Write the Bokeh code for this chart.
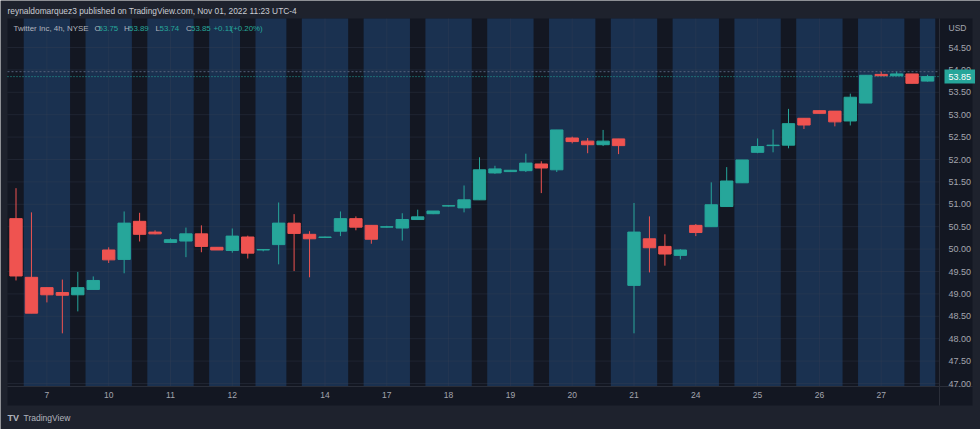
from bokeh.plotting import figure
from bokeh.models import Range1d, FixedTicker, NumeralTickFormatter, Label, ColumnDataSource
from bokeh.embed import file_html
from bokeh.resources import INLINE

# ---------------- data (Twitter Inc, 4h bars, NYSE) ----------------
bar_no = list(range(1, 61))
opens = [50.68, 49.37, 49.14, 49.03, 48.98, 49.10, 49.98, 49.77, 50.62, 50.38,
         50.15, 50.18, 50.34, 50.04, 49.97, 50.27, 49.98, 50.10, 50.58, 50.33,
         50.26, 50.40, 50.68, 50.53, 50.49, 50.47, 50.66, 50.79, 50.96, 50.92,
         51.10, 51.70, 51.73, 51.75, 51.90, 51.77, 52.48, 52.41, 52.33, 52.46,
         49.19, 50.23, 50.06, 49.86, 50.53, 50.50, 50.95, 51.48, 52.16, 52.31,
         52.32, 52.92, 53.09, 53.08, 52.86, 53.26, 53.90, 53.87, 53.91, 53.75]
highs = [51.36, 50.82, 49.14, 49.32, 49.49, 49.39, 50.04, 50.84, 50.81, 50.42,
         50.24, 50.48, 50.53, 50.04, 50.46, 50.30, 50.00, 51.04, 50.78, 50.40,
         50.28, 50.84, 50.73, 50.53, 50.52, 50.80, 50.88, 50.85, 50.98, 51.42,
         52.05, 51.86, 51.76, 52.13, 51.96, 52.66, 52.51, 52.48, 52.66, 52.46,
         51.03, 50.73, 50.33, 50.00, 50.56, 51.49, 51.83, 51.99, 52.47, 52.67,
         53.13, 52.92, 53.09, 53.08, 53.47, 53.88, 53.96, 53.96, 53.91, 53.89]
lows = [49.30, 48.57, 48.81, 48.12, 48.61, 49.10, 49.69, 49.46, 50.17, 50.33,
        50.15, 49.82, 49.93, 49.98, 49.92, 49.79, 49.95, 49.66, 49.51, 49.37,
        50.25, 50.29, 50.42, 50.12, 50.48, 50.19, 50.66, 50.78, 50.95, 50.82,
        51.10, 51.68, 51.73, 51.72, 51.25, 51.72, 52.36, 52.14, 52.30, 52.12,
        48.12, 49.48, 49.63, 49.77, 50.29, 50.50, 50.95, 51.48, 52.14, 52.16,
        52.25, 52.68, 53.03, 52.74, 52.76, 53.26, 53.87, 53.87, 53.70, 53.74]
closes = [49.40, 48.57, 48.98, 48.97, 49.14, 49.30, 49.76, 50.58, 50.33, 50.34,
          50.21, 50.34, 50.06, 49.98, 50.29, 49.91, 49.99, 50.58, 50.35, 50.23,
          50.27, 50.68, 50.49, 50.22, 50.50, 50.66, 50.72, 50.85, 50.97, 51.10,
          51.77, 51.79, 51.76, 51.92, 51.81, 52.66, 52.40, 52.33, 52.41, 52.31,
          50.38, 50.03, 49.89, 49.98, 50.37, 50.99, 51.52, 51.99, 52.29, 52.32,
          52.80, 52.77, 53.03, 52.84, 53.39, 53.88, 53.87, 53.91, 53.70, 53.85]
extended_bars = [1, 5, 9, 13, 16, 19, 23, 27, 31, 35, 39, 43, 47, 51, 55, 59]
day_bars = [3, 7, 11, 15, 21, 25, 29, 33, 37, 41, 45, 49, 53, 57]
day_labels = ["7", "10", "11", "12", "14", "17", "18", "19", "20", "21", "24", "25", "26", "27"]
price_ticks = [47.0, 47.5, 48.0, 48.5, 49.0, 49.5, 50.0, 50.5, 51.0, 51.5,
               52.0, 52.5, 53.0, 53.5, 54.0, 54.5]
last_price = 53.85
day_high_line = 53.96
header_author = "reynaldomarquez3 published on TradingView.com, Nov 01, 2022 11:23 UTC-4"
symbol_text = "Twitter Inc, 4h, NYSE"
ohlc_letters = ["O", "H", "L", "C"]
ohlc_values = ["53.75", "53.89", "53.74", "53.85"]
change_text = "+0.11"
change_pct_text = "(+0.20%)"
currency = "USD"

# ---------------- layout helpers (pixel geometry of the picture) ----------------
W, H = 980, 429
BAR_PX = 15.45
BAR1_X = 15.5
PRICE_PX = 44.8
P47_Y = 383.0


def xd(px):
    return (px - BAR1_X) / BAR_PX + 1


def yd(py):
    return 47.0 + (P47_Y - py) / PRICE_PX


PANE_L, PANE_R, PANE_T, PANE_B = 7, 939, 18, 386
AXIS_R, XAXIS_B = 972, 405

GREEN = "#26a69a"
RED = "#ef5350"
BLUE = "#1a3150"
DARK = "#131722"
PAGE = "#1e222d"
SEP = "#2a2e39"
TXT = "#a3a6af"
FONT = "Liberation Sans"

p = figure(width=W, height=H, output_backend="svg", toolbar_location=None,
           x_range=Range1d(xd(0), xd(W)), y_range=Range1d(yd(H), yd(0)),
           y_axis_location="right", x_axis_location="below",
           min_border=0)
p.background_fill_color = PAGE
p.border_fill_color = PAGE
p.outline_line_color = None
p.grid.visible = False

# pane + axis panels background
p.quad(left=xd(PANE_L), right=xd(AXIS_R), bottom=yd(XAXIS_B), top=yd(PANE_T),
       fill_color=DARK, line_color=None)

# session background: regular-hours runs in blue
ext = set(extended_bars)
runs = []
start = None
for b in bar_no + [bar_no[-1] + 1]:
    if b not in ext and b <= bar_no[-1]:
        if start is None:
            start = b
    else:
        if start is not None:
            runs.append((start - 0.5, b - 0.5))
            start = None
p.quad(left=[r[0] for r in runs], right=[r[1] for r in runs],
       bottom=yd(PANE_B), top=yd(PANE_T), fill_color=BLUE, line_color=None)

# grid lines inside the pane
p.segment(x0=xd(PANE_L), x1=xd(PANE_R), y0=price_ticks, y1=price_ticks,
          line_color="#3a4256", line_alpha=0.3, line_width=1)
p.segment(x0=day_bars, x1=day_bars, y0=yd(PANE_B), y1=yd(PANE_T),
          line_color="#3a4256", line_alpha=0.3, line_width=1)

# separators
p.segment(x0=xd(PANE_R), x1=xd(PANE_R), y0=yd(XAXIS_B), y1=yd(PANE_T),
          line_color=SEP, line_width=1)
p.segment(x0=xd(PANE_L), x1=xd(AXIS_R), y0=yd(PANE_B), y1=yd(PANE_B),
          line_color=SEP, line_width=1)

# price lines
p.segment(x0=xd(PANE_L), x1=xd(PANE_R), y0=day_high_line, y1=day_high_line,
          line_color="#56627a", line_dash="2 2", line_width=1)
p.segment(x0=xd(PANE_L), x1=xd(PANE_R), y0=last_price, y1=last_price,
          line_color=GREEN, line_dash="1 2", line_width=1)

# candles
colors = [GREEN if c >= o else RED for o, c in zip(opens, closes)]
src = ColumnDataSource(dict(x=bar_no, o=opens, h=highs, l=lows, c=closes, col=colors))
p.segment(x0="x", y0="l", x1="x", y1="h", line_color="col", line_width=1, source=src)
p.vbar(x="x", width=0.8, top="o", bottom="c", fill_color="col", line_color="col",
       line_width=1, source=src)

# axes (kept in their side panels, drawn at fixed positions)
xa = p.xaxis[0]
xa.fixed_location = yd(PANE_B)
xa.ticker = FixedTicker(ticks=day_bars)
xa.major_label_overrides = {b: t for b, t in zip(day_bars, day_labels)}
xa.major_label_text_font = FONT
xa.major_label_text_font_size = "8.5px"
xa.major_label_text_color = TXT
xa.major_tick_line_color = None
xa.major_tick_out = 0
xa.major_tick_in = 0
xa.minor_tick_line_color = None
xa.axis_line_color = None
xa.major_label_standoff = 5

ya = p.yaxis[0]
ya.fixed_location = xd(PANE_R)
ya.ticker = FixedTicker(ticks=price_ticks)
ya.formatter = NumeralTickFormatter(format="0.00")
ya.major_label_text_font = FONT
ya.major_label_text_font_size = "9px"
ya.major_label_text_color = TXT
ya.major_tick_line_color = None
ya.major_tick_out = 0
ya.major_tick_in = 0
ya.minor_tick_line_color = None
ya.axis_line_color = None
ya.major_label_standoff = 9


def lab(x, y, text, color=TXT, size="8.5px", **kw):
    p.add_layout(Label(x=x, y=y, text=text, text_color=color, text_font=FONT,
                       text_font_size=size, text_baseline="middle", **kw))


lab(xd(7), yd(10.5), header_author, color="#c9ccd3", size="8.4px")
lab(xd(13), yd(28), symbol_text, color="#b2b5be", size="7.9px")
letter_x = [94, 123.5, 155, 185.5]
value_x = [98, 128.5, 159, 190.5]
for lx, vx, l, v in zip(letter_x, value_x, ohlc_letters, ohlc_values):
    lab(xd(lx), yd(28), l, color="#b2b5be", size="7.9px")
    lab(xd(vx), yd(28), v, color=GREEN, size="7.9px")
lab(xd(213), yd(28), change_text, color=GREEN, size="7.9px")
lab(xd(230), yd(28), change_pct_text, color=GREEN, size="7.9px")
lab(xd(948), yd(27), currency, size="8.5px")
lab(xd(944), last_price, f"{last_price:.2f}", color="#ffffff", size="9px",
    background_fill_color=GREEN, padding=4)
lab(xd(7), yd(417), "TV", color="#b2b5be", size="9px", text_font_style="bold")
lab(xd(23), yd(417), "TradingView", color="#b2b5be", size="8.5px")

open("out.html", "w").write(file_html(p, INLINE))
